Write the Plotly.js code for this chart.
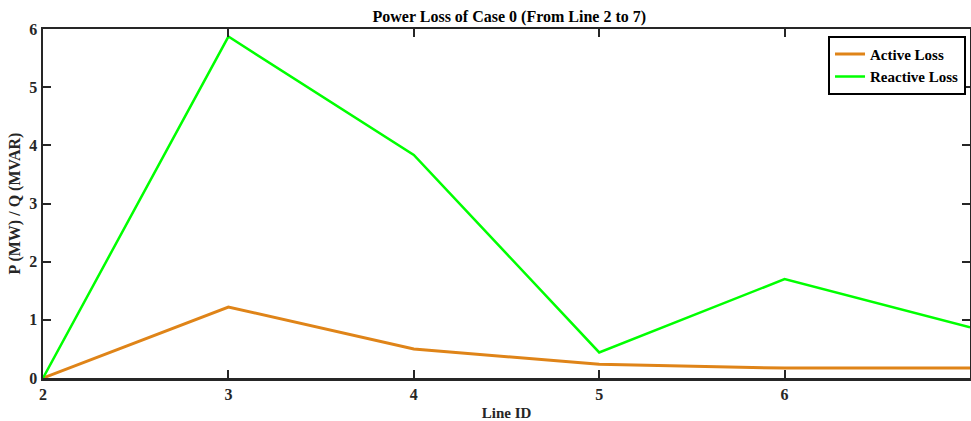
<!DOCTYPE html>
<html>
<head>
<meta charset="utf-8">
<script src="https://cdn.plot.ly/plotly-3.0.1.min.js"></script>
<style>html,body{margin:0;padding:0;background:#fff;}#chart{width:971px;height:421px;}</style>
</head>
<body>
<div id="chart"></div>
<script>
const lineIds = [2, 3, 4, 5, 6, 7];
const activeLoss = [0, 1.22, 0.50, 0.235, 0.17, 0.17];
const reactiveLoss = [0, 5.87, 3.835, 0.44, 1.70, 0.87];
const xTickVals = [2, 3, 4, 5, 6];
const yTickVals = [0, 1, 2, 3, 4, 5, 6];

const fontFam = '"Liberation Serif", "Times New Roman", serif';
const axisCommon = {
  showgrid: false, zeroline: false, showline: true, mirror: 'ticks',
  linecolor: '#262626', linewidth: 2.5,
  ticks: 'inside', ticklen: 8, tickwidth: 2, tickcolor: '#262626',
  tickfont: {family: fontFam, size: 16, color: '#262626', weight: 'bold'}
};

const data = [
  {x: lineIds, y: activeLoss, type: 'scatter', mode: 'lines', name: 'Active Loss',
   line: {color: '#DF8418', width: 3}},
  {x: lineIds, y: reactiveLoss, type: 'scatter', mode: 'lines', name: 'Reactive Loss',
   line: {color: '#00FF00', width: 2.5}}
];

const layout = {
  width: 971, height: 421,
  margin: {l: 43, r: 1, t: 29, b: 43},
  paper_bgcolor: '#fff', plot_bgcolor: '#fff',
  title: {text: 'Power Loss of Case 0 (From Line 2 to 7)', x: 0.5245, xanchor: 'center', y: 0.962, yanchor: 'middle',
          font: {family: fontFam, size: 16, color: '#000', weight: 'bold'}},
  xaxis: Object.assign({}, axisCommon, {
    range: [2, 7], tickvals: xTickVals,
    title: {text: 'Line ID', standoff: 6, font: {family: fontFam, size: 15, color: '#262626', weight: 'bold'}}
  }),
  yaxis: Object.assign({}, axisCommon, {
    range: [0, 6], tickvals: yTickVals,
    title: {text: 'P (MW) / Q (MVAR)', standoff: 5, font: {family: fontFam, size: 16, color: '#262626', weight: 'bold'}}
  }),
  legend: {x: 0.9957, xanchor: 'right', y: 0.981, yanchor: 'top',
    bgcolor: '#fff', bordercolor: '#000', borderwidth: 2,
    font: {family: fontFam, size: 15, color: '#000', weight: 'bold'},
    tracegroupgap: 0, itemwidth: 30},
  showlegend: true
};

Plotly.newPlot('chart', data, layout, {displayModeBar: false, staticPlot: true});
</script>
</body>
</html>
